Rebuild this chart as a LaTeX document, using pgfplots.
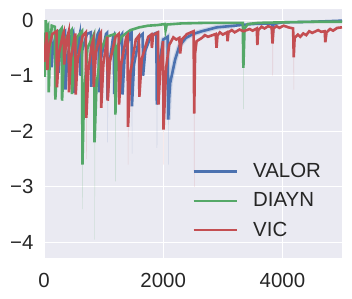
\documentclass[border=0pt]{standalone}
\usepackage{pgfplots}
\pgfplotsset{compat=1.18}
\usepackage{fontspec}
\setmainfont{Liberation Sans}
\definecolor{bgc}{HTML}{EAEAF2}
\definecolor{txt}{HTML}{262626}
\definecolor{sblue}{HTML}{4C72B0}
\definecolor{sgreen}{HTML}{55A868}
\definecolor{sred}{HTML}{C44E52}
\begin{document}
\begin{tikzpicture}
\begin{axis}[name=ax, scale only axis, width=298bp, height=249bp,
  xmin=0, xmax=5000, ymin=-4.28, ymax=0.2,
  axis background/.style={fill=bgc},
  axis line style={draw=none},
  grid=major, major grid style={white, line width=1.2bp},
  major tick length=0, scaled ticks=false,
  xtick={0,2000,4000}, xticklabels={0,2000,4000},
  ytick={-4,-3,-2,-1,0}, yticklabels={−4,−3,−2,−1,0},
  tick label style={font=\fontsize{20.5}{24}\selectfont, text=txt},
  xticklabel style={yshift=-12bp},
  yticklabel style={xshift=-7bp},
  legend style={at={(0.935,0.075)}, anchor=south east, draw=none, fill=none,
    font=\fontsize{20.5}{24}\selectfont, text=txt, row sep=10.5bp, inner sep=0pt,
    nodes={inner sep=1.5bp},
    /tikz/every odd column/.append style={column sep=14bp}},
  legend cell align=left,
  legend image code/.code={\draw[#1, line width=2.2bp] (0bp,0bp) -- (43bp,0bp);},
  unbounded coords=jump,
]
% faint band lows
\addplot[forget plot, sgreen, opacity=0.18, line width=0.6bp] coordinates {
(645,-1.5)(647,-3.4)(649,-1.5)(645,nan)(848,-1.5)(850,-3.95)(852,-1.5)(850,nan)(1198,-1.2)(1200,-2.9)(1202,-1.2)(1200,nan)(3345,-0.6)(3347,-1.6)(3349,-0.6)};
\addplot[forget plot, sred, opacity=0.18, line width=0.6bp] coordinates {
(710,-1.2)(712,-2.5)(714,-1.2)(712,nan)(1410,-1.2)(1412,-2.6)(1414,-1.2)(1412,nan)(2005,-1.2)(2007,-2.6)(2009,-1.2)(2007,nan)(2520,-1.2)(2522,-3.0)(2524,-1.2)(2522,nan)(4190,-0.5)(4192,-1.25)(4194,-0.5)(4192,nan)(3835,-0.3)(3837,-1.0)(3839,-0.3)};
\addplot[forget plot, sblue, opacity=0.18, line width=0.6bp] coordinates {
(1066,-1.0)(1068,-2.2)(1070,-1.0)(1068,nan)(1476,-1.0)(1478,-2.4)(1480,-1.0)(1478,nan)(1893,-1.0)(1895,-2.3)(1897,-1.0)(1895,nan)(2085,-1.2)(2087,-2.6)(2089,-1.2)};
% VALOR halo
\addplot[forget plot, sblue, opacity=0.2, line width=5bp] coordinates {
(1900,-1.0)(1930,-0.8)(2000,-0.35)(2075,-0.3)(2085,-1.79)(2100,-1.4)(2117,-1.13)(2200,-0.71)(2270,-0.47)(2380,-0.32)(2500,-0.25)(2650,-0.2)(2900,-0.13)(3200,-0.1)};
% VALOR
\addplot[sblue, line width=2.6bp] coordinates {
(0,-0.55)(30,-0.3)(80,-0.22)(120,-0.25)(128,-0.85)(150,-0.5)(200,-0.26)(235,-0.22)(243,-0.95)(270,-0.5)(330,-0.22)(352,-0.2)(360,-1.25)(390,-0.7)(450,-0.3)(490,-0.22)(498,-1.31)(530,-0.7)(590,-0.3)(600,-0.25)(608,-1.0)(640,-0.55)(720,-0.25)(785,-0.22)(793,-1.2)(825,-0.65)(900,-0.25)(915,-0.22)(923,-1.3)(955,-0.7)(1040,-0.25)(1058,-0.23)(1066,-1.43)(1095,-0.8)(1160,-0.3)(1170,-0.28)(1178,-1.33)(1210,-0.7)(1290,-0.28)(1310,-0.25)(1318,-1.34)(1350,-0.7)(1440,-0.25)(1468,-0.22)(1476,-1.55)(1510,-0.8)(1600,-0.3)(1655,-0.25)(1663,-1.0)(1700,-0.55)(1800,-0.27)(1885,-0.23)(1893,-1.52)(1930,-0.8)(2000,-0.35)(2075,-0.3)(2085,-1.79)(2100,-1.4)(2117,-1.13)(2200,-0.71)(2270,-0.47)(2380,-0.32)(2500,-0.25)(2650,-0.2)(2900,-0.13)(3200,-0.1)(3500,-0.07)(3825,-0.06)(3835,-0.3)(3850,-0.07)(4000,-0.04)(4500,-0.03)(5000,-0.01)};
\addlegendentry{VALOR}
% DIAYN
\addplot[sgreen, line width=2.6bp] coordinates {
(0,-0.85)(12,-1.02)(30,0.0)(45,-0.15)(70,-0.1)(80,-1.3)(100,-0.6)(130,-0.1)(182,-0.12)(190,-1.43)(225,-0.7)(260,-0.2)(295,-0.15)(303,-1.45)(330,-0.8)(380,-0.3)(462,-0.18)(470,-1.33)(500,-0.8)(560,-0.3)(637,-0.2)(645,-2.6)(670,-1.4)(730,-0.5)(840,-0.25)(848,-2.2)(880,-1.2)(950,-0.55)(1050,-0.3)(1190,-0.25)(1198,-1.7)(1225,-0.5)(1300,-0.3)(1450,-0.18)(1600,-0.13)(1750,-0.1)(1900,-0.09)(2030,-0.07)(2040,-0.18)(2060,-0.08)(2300,-0.06)(2700,-0.05)(3000,-0.05)(3335,-0.05)(3345,-0.86)(3365,-0.15)(3420,-0.07)(3600,-0.05)(4000,-0.04)(4500,-0.03)(5000,-0.03)};
\addlegendentry{DIAYN}
% VIC
\addplot[sred, line width=2.6bp] coordinates {
(0,-0.75)(20,-0.5)(48,-0.22)(56,-0.9)(80,-0.5)(140,-0.25)(210,-0.2)(218,-1.21)(250,-0.6)(320,-0.25)(330,-0.22)(338,-0.8)(370,-0.4)(412,-0.22)(420,-1.3)(450,-0.7)(524,-0.24)(532,-1.34)(565,-0.7)(650,-0.28)(702,-0.22)(710,-1.76)(745,-0.9)(800,-0.45)(827,-0.35)(835,-1.2)(870,-0.6)(940,-0.25)(952,-0.23)(960,-1.58)(995,-0.8)(1062,-0.3)(1070,-1.45)(1105,-0.75)(1200,-0.3)(1252,-0.25)(1260,-1.52)(1295,-0.8)(1380,-0.3)(1402,-0.27)(1410,-1.92)(1450,-0.95)(1540,-0.35)(1592,-0.28)(1600,-1.38)(1640,-0.7)(1750,-0.3)(1800,-0.26)(1810,-0.5)(1830,-0.27)(1912,-0.22)(1920,-1.52)(1950,-0.9)(1997,-0.38)(2005,-1.97)(2050,-0.85)(2100,-0.45)(2170,-0.31)(2220,-0.35)(2270,-0.32)(2285,-0.6)(2310,-0.35)(2400,-0.25)(2510,-0.2)(2520,-1.68)(2535,-0.6)(2560,-0.38)(2650,-0.32)(2700,-0.27)(2750,-0.3)(2880,-0.25)(2895,-0.5)(2910,-0.28)(2950,-0.22)(3000,-0.26)(3070,-0.22)(3080,-0.38)(3095,-0.22)(3150,-0.18)(3200,-0.22)(3280,-0.17)(3350,-0.2)(3450,-0.16)(3500,-0.19)(3570,-0.15)(3580,-0.45)(3595,-0.18)(3650,-0.12)(3700,-0.15)(3760,-0.11)(3820,-0.13)(3835,-0.42)(3850,-0.15)(3900,-0.11)(3950,-0.14)(4020,-0.1)(4100,-0.13)(4180,-0.15)(4190,-0.67)(4205,-0.32)(4260,-0.26)(4300,-0.3)(4350,-0.24)(4400,-0.27)(4450,-0.2)(4500,-0.23)(4600,-0.18)(4650,-0.21)(4710,-0.2)(4720,-0.4)(4740,-0.22)(4800,-0.16)(4850,-0.19)(4920,-0.14)(5000,-0.13)};
\addlegendentry{VIC}
\end{axis}
\path ([xshift=-44bp,yshift=-40bp]ax.south west) rectangle ([xshift=10bp,yshift=9bp]ax.north east);
\end{tikzpicture}
\end{document}
